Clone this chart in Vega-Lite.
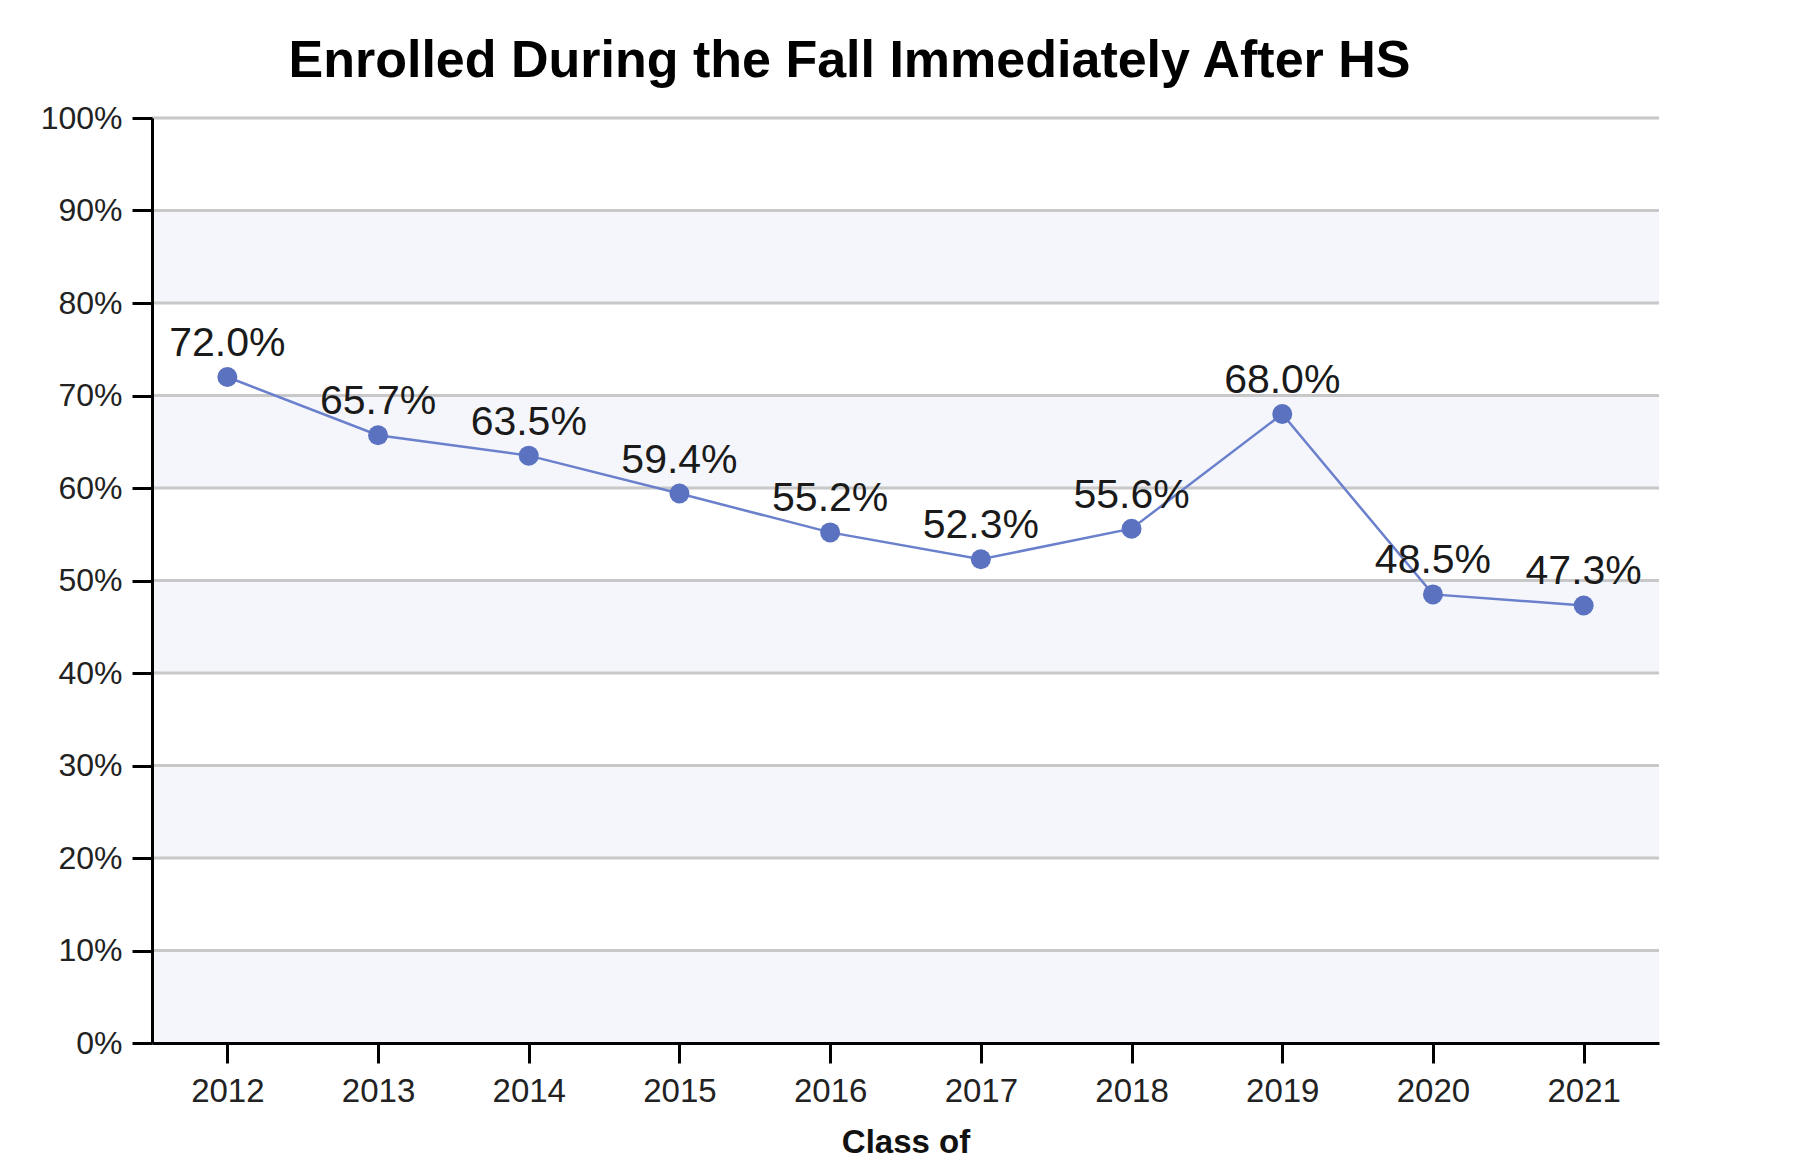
{
  "$schema": "https://vega.github.io/schema/vega-lite/v6.json",
  "autosize": "none",
  "width": 1507,
  "height": 925,
  "padding": {"left": 152, "top": 118, "right": 145, "bottom": 122},
  "background": "white",
  "title": {
    "text": "Enrolled During the Fall Immediately After HS",
    "font": "Liberation Sans",
    "fontSize": 52,
    "fontWeight": "bold",
    "color": "#000000",
    "anchor": "middle",
    "dx": -56,
    "offset": 14
  },
  "datasets": {
    "enroll": [
      {"year": "2012", "rate": 0.720},
      {"year": "2013", "rate": 0.657},
      {"year": "2014", "rate": 0.635},
      {"year": "2015", "rate": 0.594},
      {"year": "2016", "rate": 0.552},
      {"year": "2017", "rate": 0.523},
      {"year": "2018", "rate": 0.556},
      {"year": "2019", "rate": 0.680},
      {"year": "2020", "rate": 0.485},
      {"year": "2021", "rate": 0.473}
    ],
    "bands": [
      {"lo": 0.8, "hi": 0.9},
      {"lo": 0.6, "hi": 0.7},
      {"lo": 0.4, "hi": 0.5},
      {"lo": 0.2, "hi": 0.3},
      {"lo": 0.0, "hi": 0.1}
    ],
    "grid": [
      {"v": 0.1}, {"v": 0.2}, {"v": 0.3}, {"v": 0.4}, {"v": 0.5},
      {"v": 0.6}, {"v": 0.7}, {"v": 0.8}, {"v": 0.9}, {"v": 1.0}
    ]
  },
  "config": {
    "view": {"stroke": null},
    "axis": {
      "labelFont": "Liberation Sans",
      "titleFont": "Liberation Sans",
      "domainColor": "#000000",
      "domainWidth": 3,
      "tickColor": "#000000",
      "tickWidth": 3,
      "tickSize": 20,
      "grid": false,
      "labelColor": "#222222"
    }
  },
  "layer": [
    {
      "data": {"name": "bands"},
      "mark": {"type": "rect", "color": "#f5f6fb", "zindex": 0},
      "encoding": {
        "y": {"field": "lo", "type": "quantitative", "scale": {"domain": [0, 1], "nice": false}},
        "y2": {"field": "hi"}
      }
    },
    {
      "data": {"name": "grid"},
      "mark": {"type": "rule", "color": "#c8c8c8", "strokeWidth": 3},
      "encoding": {
        "y": {"field": "v", "type": "quantitative"}
      }
    },
    {
      "data": {"name": "enroll"},
      "mark": {"type": "line", "color": "#6a80cc", "strokeWidth": 2.5},
      "encoding": {
        "x": {
          "field": "year", "type": "ordinal",
          "scale": {"type": "point", "padding": 0.5},
          "axis": {
            "title": "Class of",
            "titleFontSize": 33,
            "titleFontWeight": "bold",
            "titleColor": "#111111",
            "titlePadding": 18,
            "labelFontSize": 33,
            "labelAngle": 0,
            "labelPadding": 12,
            "zindex": 2
          }
        },
        "y": {
          "field": "rate", "type": "quantitative",
          "scale": {"domain": [0, 1], "nice": false},
          "axis": {
            "title": null,
            "format": ".0%",
            "values": [0, 0.1, 0.2, 0.3, 0.4, 0.5, 0.6, 0.7, 0.8, 0.9, 1.0],
            "labelFontSize": 32,
            "labelPadding": 10,
            "zindex": 2
          }
        }
      }
    },
    {
      "data": {"name": "enroll"},
      "mark": {"type": "point", "filled": true, "size": 400, "color": "#5a72bf", "opacity": 1},
      "encoding": {
        "x": {"field": "year", "type": "ordinal"},
        "y": {"field": "rate", "type": "quantitative"}
      }
    },
    {
      "data": {"name": "enroll"},
      "mark": {"type": "text", "font": "Liberation Sans", "fontSize": 41, "color": "#1a1a1a", "baseline": "alphabetic", "align": "center", "dy": -21},
      "encoding": {
        "x": {"field": "year", "type": "ordinal"},
        "y": {"field": "rate", "type": "quantitative"},
        "text": {"field": "rate", "type": "quantitative", "format": ".1%"}
      }
    }
  ]
}
